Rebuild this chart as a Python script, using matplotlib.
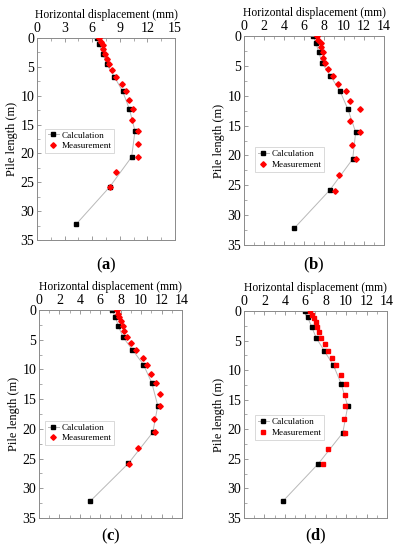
import matplotlib
matplotlib.use("Agg")
import matplotlib.pyplot as plt
from matplotlib.ticker import MultipleLocator

plt.rcParams['font.family'] = ['Liberation Serif', 'DejaVu Serif']
plt.rcParams['mathtext.fontset'] = 'custom'
plt.rcParams['mathtext.rm'] = 'Liberation Serif'
plt.rcParams['mathtext.bf'] = 'Liberation Serif:bold'

calc_depth = [0, 1.1, 2.7, 4.5, 6.7, 9.2, 12.3, 16.1, 20.6, 25.8, 32.2]
meas_depth = [0, 0.7, 1.2, 1.9, 2.7, 3.6, 4.5, 5.6, 6.7, 8.0, 9.2, 10.8, 12.3, 14.2, 16.1, 18.3, 20.6, 23.3, 25.9]

calc_a = [6.47, 6.76, 7.13, 7.56, 8.4, 9.3, 10.04, 10.65, 10.29, 7.9, 4.29]
meas_a = [6.76, 7.0, 7.13, 7.2, 7.38, 7.56, 7.82, 8.15, 8.58, 9.2, 9.67, 9.98, 10.47, 10.29, 11.0, 10.95, 10.95, 8.58, 7.93]

calc_b = [6.92, 7.18, 7.48, 7.8, 8.65, 9.6, 10.4, 11.17, 10.87, 8.58, 5.02]
meas_b = [7.35, 7.42, 7.68, 7.75, 7.9, 7.95, 8.15, 8.4, 8.9, 9.4, 10.18, 10.57, 11.57, 10.57, 11.57, 10.84, 11.2, 9.54, 9.1]

calc_c = [7.16, 7.45, 7.78, 8.2, 9.15, 10.23, 11.05, 11.63, 11.14, 8.76, 5.0]
meas_c = [7.6, 7.78, 7.88, 8.0, 8.2, 8.33, 8.6, 9.05, 9.5, 10.16, 10.6, 10.95, 11.47, 11.86, 11.8, 11.3, 11.37, 9.74, 8.86]

calc_d = [5.98, 6.24, 6.63, 7.06, 7.84, 8.76, 9.51, 10.16, 9.67, 7.29, 3.79]
meas_d = [6.47, 6.7, 6.83, 7.03, 7.16, 7.35, 7.55, 7.94, 8.27, 8.66, 9.02, 9.48, 10.0, 9.9, 9.84, 9.8, 9.93, 8.27, 7.71]

panels = [
    dict(calc=calc_a, meas=meas_a, xmax=15, xstep=3, label='a', marker='D',
         rect=[0.0932, 0.5636, 0.3476, 0.3673], leg=(0.058, 0.43), cap_y=0.518),
    dict(calc=calc_b, meas=meas_b, xmax=14, xstep=2, label='b', marker='D',
         rect=[0.6146, 0.5545, 0.3526, 0.3800], leg=(0.079, 0.35), cap_y=0.518),
    dict(calc=calc_c, meas=meas_c, xmax=14, xstep=2, label='c', marker='D',
         rect=[0.0982, 0.0582, 0.3602, 0.3782], leg=(0.042, 0.35), cap_y=0.025),
    dict(calc=calc_d, meas=meas_d, xmax=14, xstep=2, label='d', marker='s',
         rect=[0.6146, 0.0582, 0.3602, 0.3764], leg=(0.077, 0.377), cap_y=0.025),
]

fig = plt.figure(figsize=(3.97, 5.5), dpi=100)
frame_col = '#8a8a8a'

for p in panels:
    ax = fig.add_axes(p['rect'])
    ax.plot(p['calc'], calc_depth, '-', color='#b8b8b8', lw=0.7, marker='s',
            markersize=3.0, markerfacecolor='black', markeredgecolor='black',
            label='Calculation', zorder=2)
    ms = 2.8 if p['marker'] == 'D' else 3.0
    ax.plot(p['meas'], meas_depth, linestyle='none', marker=p['marker'],
            markersize=ms, color='#ff0000', markeredgecolor='#ff0000',
            label='Measurement', zorder=3)
    ax.set_xlim(0, p['xmax'])
    ax.set_ylim(35, 0)
    ax.xaxis.set_major_locator(MultipleLocator(p['xstep']))
    ax.xaxis.set_minor_locator(MultipleLocator(p['xstep'] / 2))
    ax.yaxis.set_major_locator(MultipleLocator(5))
    ax.yaxis.set_minor_locator(MultipleLocator(2.5))
    ax.xaxis.tick_top()
    ax.xaxis.set_label_position('top')
    ax.tick_params(axis='x', which='both', direction='in', top=True, bottom=True,
                   labelsize=10, pad=2, color=frame_col)
    ax.tick_params(axis='y', which='both', direction='in', left=True, right=False,
                   labelsize=10, pad=2, color=frame_col)
    ax.tick_params(which='major', length=3, width=0.6)
    ax.tick_params(which='minor', length=2, width=0.5)
    for s in ax.spines.values():
        s.set_color(frame_col)
        s.set_linewidth(0.7)
    ax.set_xlabel('Horizontal displacement (mm)', fontsize=8.4, labelpad=3)
    ax.set_ylabel('Pile length (m)', fontsize=8.8, labelpad=2)
    leg = ax.legend(loc='lower left', bbox_to_anchor=p['leg'], fontsize=6.6,
                    frameon=True, fancybox=False, edgecolor='#c8c8c8',
                    handlelength=1.2, handletextpad=0.3, borderpad=0.3,
                    labelspacing=0.25, borderaxespad=0)
    leg.get_frame().set_linewidth(0.6)
    cx = p['rect'][0] + p['rect'][2] / 2
    fig.text(cx, p['cap_y'], '(' + r'$\mathbf{' + p['label'] + r'}$' + ')', fontsize=12,
             ha='center', va='center')

fig.savefig('out.png', dpi=100)
